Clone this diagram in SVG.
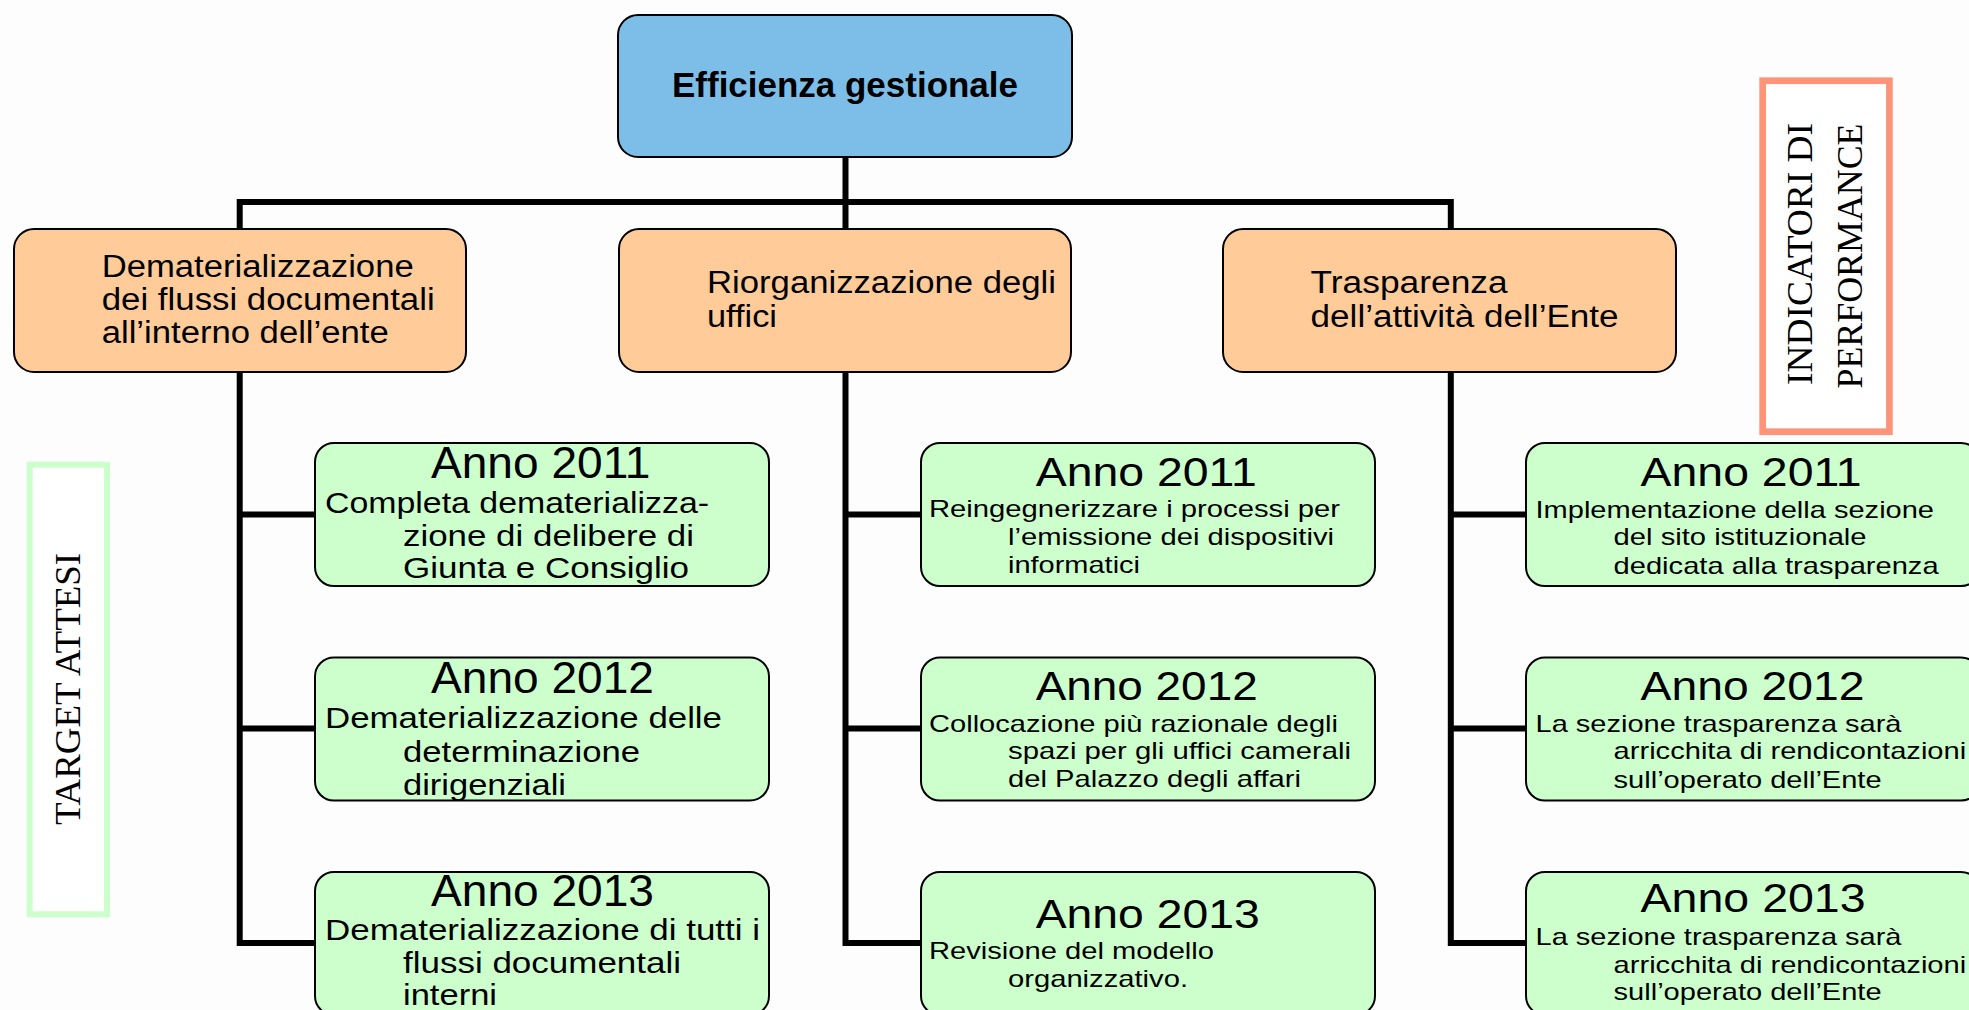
<svg xmlns="http://www.w3.org/2000/svg" width="1969" height="1010" viewBox="0 0 1969 1010">
<style>
.box{stroke:#000;stroke-width:2}
.top{fill:#7DBEE8}
.mid{fill:#FFCC99}
.leaf{fill:#CCFFCC}
.conn{fill:none;stroke:#000;stroke-width:6;stroke-linejoin:miter}
text{font-family:"Liberation Sans",Arial,sans-serif;fill:#000}
.t1{font-size:35px;font-weight:bold}
.t2{font-size:31px}
.yl{font-size:44px}
.bl{font-size:30px}
.ys{font-size:41px}
.bs{font-size:24px}
.side{font-family:"Liberation Serif","Times New Roman",serif;font-size:35px;text-anchor:middle}
</style>
<rect width="1969" height="1010" fill="#FDFDFD"/>
<g id="connectors">
<path class="conn" d="M315,943 H239.7 V202 H1450.8 V943 H1526"/>
<path class="conn" d="M845.5,157 V943 H921"/>
<path class="conn" d="M239.7,514.5 H315 M239.7,728.5 H315 M845.5,514.5 H921 M845.5,728.5 H921 M1450.8,514.5 H1526 M1450.8,728.5 H1526"/>
</g>
<g id="root">
<rect class="box top" x="618" y="15" width="454" height="142" rx="20"/>
<text class="t1" x="672" y="97" textLength="346" lengthAdjust="spacingAndGlyphs">Efficienza gestionale</text>
</g>
<g id="dematerializzazione">
<rect class="box mid" x="14" y="229" width="452" height="143" rx="20"/>
<text class="t2" x="101.7" y="276.7" textLength="312" lengthAdjust="spacingAndGlyphs">Dematerializzazione</text>
<text class="t2" x="101.7" y="310" textLength="333" lengthAdjust="spacingAndGlyphs">dei flussi documentali</text>
<text class="t2" x="101.7" y="343" textLength="287" lengthAdjust="spacingAndGlyphs">all’interno dell’ente</text>
</g>
<g id="riorganizzazione">
<rect class="box mid" x="619" y="229" width="452" height="143" rx="20"/>
<text class="t2" x="707" y="293" textLength="349" lengthAdjust="spacingAndGlyphs">Riorganizzazione degli</text>
<text class="t2" x="707" y="327" textLength="70" lengthAdjust="spacingAndGlyphs">uffici</text>
</g>
<g id="trasparenza">
<rect class="box mid" x="1223" y="229" width="453" height="143" rx="20"/>
<text class="t2" x="1310.6" y="293" textLength="197" lengthAdjust="spacingAndGlyphs">Trasparenza</text>
<text class="t2" x="1310.6" y="327" textLength="308" lengthAdjust="spacingAndGlyphs">dell’attività dell’Ente</text>
</g>
<g id="dem-2011">
<rect class="box leaf" x="315" y="443" width="454" height="143" rx="19"/>
<text class="yl" x="431" y="478" textLength="219.5" lengthAdjust="spacingAndGlyphs">Anno 2011</text>
<text class="bl" x="325" y="513" textLength="384" lengthAdjust="spacingAndGlyphs">Completa dematerializza-</text>
<text class="bl" x="403" y="546" textLength="291" lengthAdjust="spacingAndGlyphs">zione di delibere di</text>
<text class="bl" x="403" y="578" textLength="286" lengthAdjust="spacingAndGlyphs">Giunta e Consiglio</text>
</g>
<g id="dem-2012">
<rect class="box leaf" x="315" y="657.5" width="454" height="143" rx="19"/>
<text class="yl" x="431" y="693" textLength="223" lengthAdjust="spacingAndGlyphs">Anno 2012</text>
<text class="bl" x="325" y="728" textLength="397" lengthAdjust="spacingAndGlyphs">Dematerializzazione delle</text>
<text class="bl" x="403" y="761.5" textLength="237" lengthAdjust="spacingAndGlyphs">determinazione</text>
<text class="bl" x="403" y="795" textLength="163" lengthAdjust="spacingAndGlyphs">dirigenziali</text>
</g>
<g id="dem-2013">
<rect class="box leaf" x="315" y="872" width="454" height="143" rx="19"/>
<text class="yl" x="431" y="906" textLength="223" lengthAdjust="spacingAndGlyphs">Anno 2013</text>
<text class="bl" x="325" y="940" textLength="435" lengthAdjust="spacingAndGlyphs">Dematerializzazione di tutti i</text>
<text class="bl" x="403" y="973" textLength="278" lengthAdjust="spacingAndGlyphs">flussi documentali</text>
<text class="bl" x="403" y="1005" textLength="94" lengthAdjust="spacingAndGlyphs">interni</text>
</g>
<g id="rio-2011">
<rect class="box leaf" x="921" y="443" width="454" height="143" rx="19"/>
<text class="ys" x="1035.7" y="485.5" textLength="221" lengthAdjust="spacingAndGlyphs">Anno 2011</text>
<text class="bs" x="929" y="517" textLength="411" lengthAdjust="spacingAndGlyphs">Reingegnerizzare i processi per</text>
<text class="bs" x="1008" y="545" textLength="326" lengthAdjust="spacingAndGlyphs">l’emissione dei dispositivi</text>
<text class="bs" x="1008" y="572.5" textLength="132" lengthAdjust="spacingAndGlyphs">informatici</text>
</g>
<g id="rio-2012">
<rect class="box leaf" x="921" y="657.5" width="454" height="143" rx="19"/>
<text class="ys" x="1035.7" y="700" textLength="222" lengthAdjust="spacingAndGlyphs">Anno 2012</text>
<text class="bs" x="929" y="731.5" textLength="409" lengthAdjust="spacingAndGlyphs">Collocazione più razionale degli</text>
<text class="bs" x="1008" y="759" textLength="343" lengthAdjust="spacingAndGlyphs">spazi per gli uffici camerali</text>
<text class="bs" x="1008" y="787" textLength="293" lengthAdjust="spacingAndGlyphs">del Palazzo degli affari</text>
</g>
<g id="rio-2013">
<rect class="box leaf" x="921" y="872" width="454" height="143" rx="19"/>
<text class="ys" x="1035.7" y="927.6" textLength="224" lengthAdjust="spacingAndGlyphs">Anno 2013</text>
<text class="bs" x="929" y="959" textLength="285" lengthAdjust="spacingAndGlyphs">Revisione del modello</text>
<text class="bs" x="1008" y="987" textLength="180" lengthAdjust="spacingAndGlyphs">organizzativo.</text>
</g>
<g id="tra-2011">
<rect class="box leaf" x="1526" y="443" width="454" height="143" rx="19"/>
<text class="ys" x="1640.6" y="485.5" textLength="221" lengthAdjust="spacingAndGlyphs">Anno 2011</text>
<text class="bs" x="1535.5" y="518" textLength="398.5" lengthAdjust="spacingAndGlyphs">Implementazione della sezione</text>
<text class="bs" x="1613.6" y="545" textLength="253" lengthAdjust="spacingAndGlyphs">del sito istituzionale</text>
<text class="bs" x="1613.6" y="573.5" textLength="325" lengthAdjust="spacingAndGlyphs">dedicata alla trasparenza</text>
</g>
<g id="tra-2012">
<rect class="box leaf" x="1526" y="657.5" width="454" height="143" rx="19"/>
<text class="ys" x="1640.6" y="700" textLength="224" lengthAdjust="spacingAndGlyphs">Anno 2012</text>
<text class="bs" x="1535.5" y="731.5" textLength="366" lengthAdjust="spacingAndGlyphs">La sezione trasparenza sarà</text>
<text class="bs" x="1613.6" y="759" textLength="352.6" lengthAdjust="spacingAndGlyphs">arricchita di rendicontazioni</text>
<text class="bs" x="1613.6" y="787.5" textLength="268" lengthAdjust="spacingAndGlyphs">sull’operato dell’Ente</text>
</g>
<g id="tra-2013">
<rect class="box leaf" x="1526" y="872" width="454" height="143" rx="19"/>
<text class="ys" x="1640.6" y="912" textLength="225" lengthAdjust="spacingAndGlyphs">Anno 2013</text>
<text class="bs" x="1535.5" y="945" textLength="366" lengthAdjust="spacingAndGlyphs">La sezione trasparenza sarà</text>
<text class="bs" x="1613.6" y="973" textLength="352.6" lengthAdjust="spacingAndGlyphs">arricchita di rendicontazioni</text>
<text class="bs" x="1613.6" y="1000" textLength="268" lengthAdjust="spacingAndGlyphs">sull’operato dell’Ente</text>
</g>
<g id="indicatori">
<rect x="1762.7" y="80.7" width="126.7" height="351" fill="#FFFFFF" stroke="#FF9478" stroke-width="6.7"/>
<text class="side" transform="translate(1811.7,254) rotate(-90)" textLength="262" lengthAdjust="spacingAndGlyphs">INDICATORI DI</text>
<text class="side" transform="translate(1861.7,256) rotate(-90)" textLength="265" lengthAdjust="spacingAndGlyphs">PERFORMANCE</text>
</g>
<g id="target">
<rect x="29.7" y="464.7" width="77.3" height="449.6" fill="#FFFFFF" stroke="#CCFFCC" stroke-width="6"/>
<text class="side" transform="translate(80,689) rotate(-90)" textLength="272" lengthAdjust="spacingAndGlyphs">TARGET ATTESI</text>
</g>
</svg>
